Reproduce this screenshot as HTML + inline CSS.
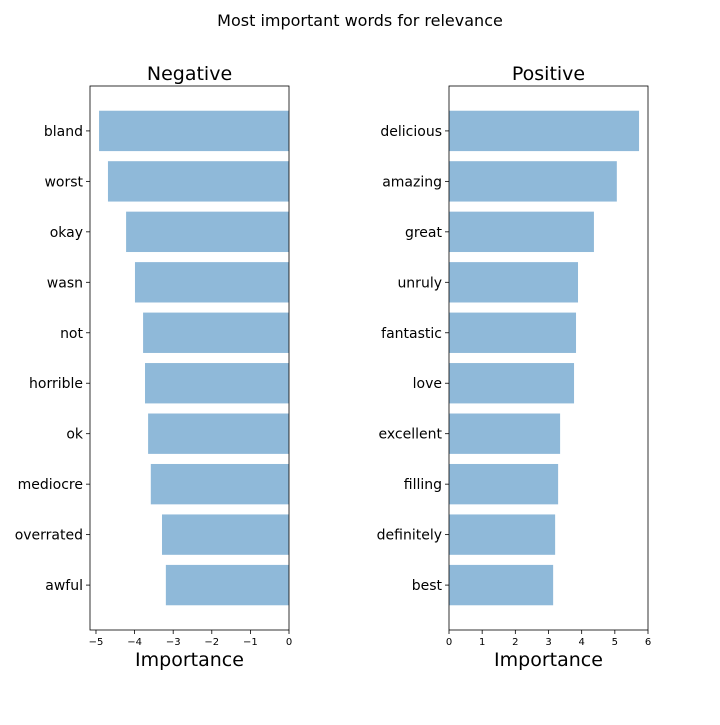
<!DOCTYPE html>
<html><head><meta charset="utf-8"><style>
body{margin:0;background:#fff;}
svg text{font-family:"DejaVu Sans","Liberation Sans",sans-serif;fill:#000;}
</style></head><body>
<svg id="c" width="720" height="720" xmlns="http://www.w3.org/2000/svg">
<rect width="720" height="720" fill="#fff"/>
<text x="360" y="26" font-size="16" text-anchor="middle">Most important words for relevance</text>
</svg>
<script>
const negWords = ["bland","worst","okay","wasn","not","horrible","ok","mediocre","overrated","awful"];
const negValues = [-4.92,-4.69,-4.22,-3.99,-3.78,-3.73,-3.65,-3.58,-3.29,-3.19];
const negTicks = [-5,-4,-3,-2,-1,0];
const negTickLabels = ["\u22125","\u22124","\u22123","\u22122","\u22121","0"];
const posWords = ["delicious","amazing","great","unruly","fantastic","love","excellent","filling","definitely","best"];
const posValues = [5.73,5.06,4.37,3.89,3.83,3.77,3.35,3.29,3.2,3.14];
const posTicks = [0,1,2,3,4,5,6];
const posTickLabels = ["0","1","2","3","4","5","6"];

const svg = document.getElementById('c');
const NS = 'http://www.w3.org/2000/svg';
function mk(tag, attrs, parent){const e=document.createElementNS(NS,tag);for(const k in attrs)e.setAttribute(k,attrs[k]);(parent||svg).appendChild(e);return e;}

function panel(name, title, words, values, ticks, tickLabels, x0, x1, xmin, xmax){
  const top=86, bot=630;
  const g = mk('g',{});
  
  
  const xs = v => x0 + (v-xmin)/(xmax-xmin)*(x1-x0);
  const ys = i => top + (i+0.89)/10.78*(bot-top);
  const bh = 0.8/10.78*(bot-top);
  words.forEach((w,i)=>{
    const a=xs(0), b=xs(values[i]);
    const r = mk('rect',{x:Math.min(a,b),y:ys(i)-bh/2,width:Math.abs(b-a),height:bh,fill:'#8fb9d9'},g);
    
    
    mk('line',{x1:x0-4,x2:x0,y1:ys(i),y2:ys(i),stroke:'#000','stroke-width':0.8},g);
    const t = mk('text',{x:x0-7,y:ys(i)+5,'font-size':14,'text-anchor':'end'},g);
    t.textContent=w;
    
    
  });
  mk('rect',{x:x0,y:top,width:x1-x0,height:bot-top,fill:'none',stroke:'#000','stroke-width':0.8},g);
  ticks.forEach((v,i)=>{
    const x=xs(v);
    mk('line',{x1:x,x2:x,y1:bot,y2:bot+4,stroke:'#000','stroke-width':0.8},g);
    const t=mk('text',{x:x,y:bot+15,'font-size':10,'text-anchor':'middle'},g);
    t.textContent=tickLabels[i];
    
    
  });
  const tt=mk('text',{x:(x0+x1)/2,y:80,'font-size':19,'text-anchor':'middle'},g);
  tt.textContent=title;
  
  
  const xl=mk('text',{x:(x0+x1)/2,y:666,'font-size':19,'text-anchor':'middle'},g);
  xl.textContent='Importance';
  
  
}
panel('negative','Negative',negWords,negValues,negTicks,negTickLabels,90,289,-5.155,0);
panel('positive','Positive',posWords,posValues,posTicks,posTickLabels,449,648,0,6);
</script>
</body></html>
